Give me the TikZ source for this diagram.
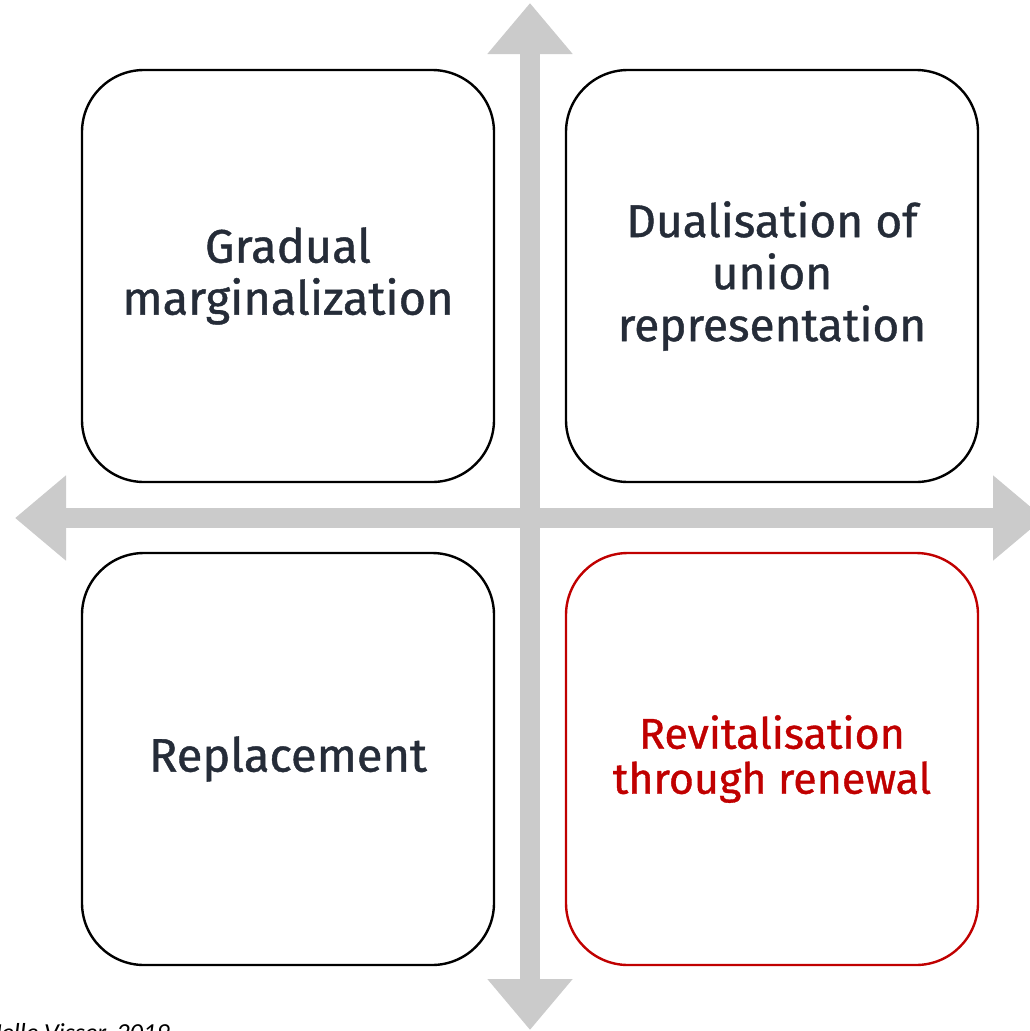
\documentclass[tikz,border=0pt]{standalone}
\usepackage{fontspec}
\setmainfont{Fira Sans}
\newfontfamily\quadfont{Fira Sans}[FakeBold=0.9]
\newfontfamily\notefont{Carlito}
\usetikzlibrary{arrows.meta}

\definecolor{axisgrey}{HTML}{CBCBCB}
\definecolor{textnavy}{HTML}{252C38}
\definecolor{accentred}{HTML}{C00000}

\def\boxSize{412}
\def\boxRound{62}

\begin{document}
\begin{tikzpicture}[x=1pt,y=-1pt,
        quadrant/.style={draw=black,line width=2.4pt,rounded corners=\boxRound pt,
            minimum width=\boxSize pt,minimum height=\boxSize pt,align=center,
            text=textnavy,font=\quadfont\fontsize{47}{52}\selectfont},
        axis/.style={draw=axisgrey,line width=20pt,>={Triangle[length=51pt,width=82pt]}}]

    \useasboundingbox (0,0) rectangle (1030,1031);
    \clip (0,0) rectangle (1030,1031);

    % axes
    \coordinate (axis top) at (530,3);
    \coordinate (axis bottom) at (530,1030);
    \coordinate (axis left) at (15,518);
    \coordinate (axis right) at (1044,518);
    \draw [axis,<->] (axis top) -- (axis bottom);
    \draw [axis,<->] (axis left) -- (axis right);

    % quadrants
    \node [quadrant] (marginal) at (288,276) {Gradual\\marginalization};
    \node [quadrant,font=\quadfont\fontsize{46}{52}\selectfont] (dual) at (772,276) {Dualisation of\\union\\representation};
    \node [quadrant] (replace) at (288,759) {Replacement};
    \node [quadrant,draw=accentred,text=accentred,font=\quadfont\fontsize{43}{45}\selectfont] (revital) at (772,759) {Revitalisation\\through renewal};

    \node [anchor=base east,font=\notefont\itshape\fontsize{26}{30}\selectfont] (source) at (173,1041) {Jelle Visser, 2019};

\end{tikzpicture}
\end{document}
